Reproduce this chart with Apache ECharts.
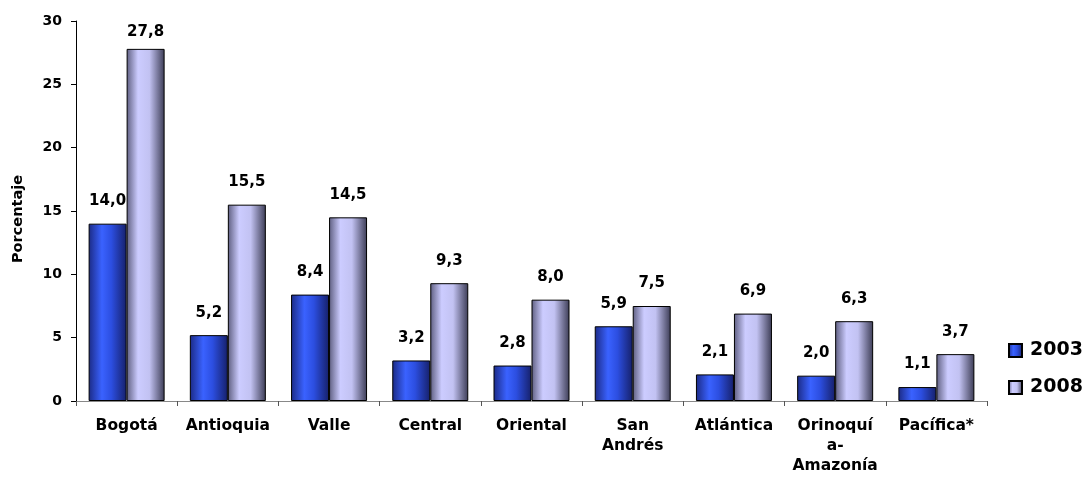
<!DOCTYPE html>
<html>
<head>
<meta charset="utf-8">
<script src="https://cdn.jsdelivr.net/npm/echarts@6/dist/echarts.min.js"></script>
<style>
  html, body { margin: 0; padding: 0; background: #fff; }
  #chart { width: 1091px; height: 477px; }
</style>
</head>
<body>
<div id="chart"></div>
<script>
const categories = ["Bogotá", "Antioquia", "Valle", "Central", "Oriental", "San\nAndrés", "Atlántica", "Orinoquí\na-\nAmazonía", "Pacífica*"];
const values2003 = [14.0, 5.2, 8.4, 3.2, 2.8, 5.9, 2.1, 2.0, 1.1];
const values2008 = [27.8, 15.5, 14.5, 9.3, 8.0, 7.5, 6.9, 6.3, 3.7];
const yTicks = { min: 0, max: 30, interval: 5 };

// wide bold face, closer to the stretched Arial of the original
const font = "DejaVu Sans, sans-serif";

const blueFill = new echarts.graphic.LinearGradient(0, 0, 1, 0, [
  { offset: 0, color: "#1b2a85" },
  { offset: 0.35, color: "#3a62ff" },
  { offset: 0.6, color: "#2c4ee0" },
  { offset: 1, color: "#16206a" }
]);
const lavFill = new echarts.graphic.LinearGradient(0, 0, 1, 0, [
  { offset: 0, color: "#5e5e80" },
  { offset: 0.3, color: "#ccccff" },
  { offset: 0.6, color: "#c2c2f2" },
  { offset: 1, color: "#3c3c55" }
]);

const fmt = (p) => p.value.toFixed(1).replace(".", ",");

const labelStyle = {
  show: true,
  position: "top",
  distance: 15,
  formatter: fmt,
  fontFamily: font,
  fontWeight: "bold",
  fontSize: 15,
  color: "#000"
};

// the tallest label sits closer to its bar (it hits the top of the plot)
const data2008 = values2008.map((v) => (v > 25 ? { value: v, label: { distance: 9 } } : v));

const chart = echarts.init(document.getElementById("chart"));
chart.setOption({
  animation: false,
  grid: { left: 76, right: 104, top: 21, bottom: 76 },
  legend: {
    orient: "vertical",
    left: 1003,
    top: 336,
    itemWidth: 13,
    itemHeight: 13,
    itemGap: 18,
    icon: "rect",
    textStyle: { fontFamily: font, fontWeight: "bold", fontSize: 19, color: "#000", padding: [0, 0, 0, 3] },
    data: ["2003", "2008"]
  },
  xAxis: {
    type: "category",
    data: categories,
    axisLine: { lineStyle: { color: "#888", width: 1 } },
    axisTick: { show: true, length: 5, lineStyle: { color: "#555" } },
    axisLabel: {
      interval: 0,
      margin: 15,
      fontFamily: font,
      fontWeight: "bold",
      fontSize: 15.5,
      color: "#000",
      lineHeight: 20
    }
  },
  yAxis: {
    type: "value",
    min: yTicks.min,
    max: yTicks.max,
    interval: yTicks.interval,
    name: "Porcentaje",
    nameLocation: "middle",
    nameGap: 50,
    nameTextStyle: { fontFamily: font, fontWeight: "bold", fontSize: 14.5, color: "#000", padding: [0, 16, 0, 0] },
    axisLine: { show: true, lineStyle: { color: "#000", width: 1 } },
    axisTick: { show: true, length: 5, lineStyle: { color: "#000" } },
    splitLine: { show: false },
    axisLabel: {
      margin: 14,
      fontFamily: font,
      fontWeight: "bold",
      fontSize: 14,
      color: "#000"
    }
  },
  series: [
    {
      name: "2003",
      type: "bar",
      data: values2003,
      barWidth: 38,
      barGap: "0%",
      itemStyle: { color: blueFill, borderColor: "#000", borderWidth: 1 },
      label: labelStyle
    },
    {
      name: "2008",
      type: "bar",
      data: data2008,
      barWidth: 38,
      itemStyle: { color: lavFill, borderColor: "#000", borderWidth: 1 },
      label: labelStyle
    }
  ]
});
</script>
</body>
</html>
